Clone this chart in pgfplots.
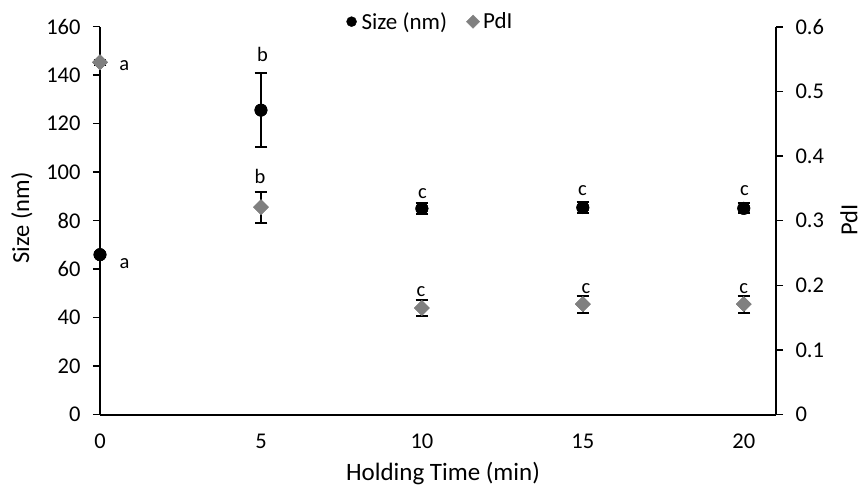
\documentclass[border=0pt]{standalone}
\usepackage{pgfplots}
\pgfplotsset{compat=1.18}
\usepackage{fontspec}
\setmainfont{Carlito}
\definecolor{pdigray}{RGB}{128,128,128}

% holding time (min), mean, standard deviation
\pgfplotstableread{
t   size   err
0   66.0   0.8
5   125.6  15.2
10  85.0   2.3
15  85.4   2.2
20  85.1   2.1
}\sizedata
\pgfplotstableread{
t   pdi    err
0   0.545  0.004
5   0.321  0.024
10  0.165  0.012
15  0.171  0.013
20  0.171  0.013
}\pdidata

\tikzset{letter/.style={font=\fontsize{20.5}{24}\selectfont, anchor=base, inner sep=0pt}}

\begin{document}
\begin{tikzpicture}
\pgfplotsset{
  common/.style={
    scale only axis, width=676pt, height=388pt,
    xmin=0, xmax=21,
    /pgf/number format/assume math mode=true,
    tick label style={font=\fontsize{22.5}{26}\selectfont},
    label style={font=\fontsize{25}{30}\selectfont},
    axis line style={line width=2pt, black},
    tick align=outside, major tick length=7pt,
    ytick style={line width=1.6pt, black},
    xtick style={draw=none},
    clip=false,
  },
  caps/.style={
    error bars/.cd, y dir=both, y explicit,
    error bar style={line width=2pt, black},
    error mark options={rotate=90, black, line width=2pt, mark size=6.3pt},
  },
  sizemark/.style={only marks, mark=*, mark size=6.2pt, black},
  pdimark/.style={only marks, mark=square*, mark size=5.3pt, pdigray,
    mark options={rotate=45}},
}
% left axis: particle size
\begin{axis}[common,
  axis x line*=bottom, axis y line*=left,
  ymin=0, ymax=160, ytick={0,20,...,160},
  xtick={0,5,10,15,20},
  xticklabel style={yshift=-9pt},
  yticklabel style={xshift=-9pt},
  xlabel={Holding Time (min)}, ylabel={Size (nm)},
  xlabel style={at={(axis description cs:0.5074,-0.1525)}, anchor=center},
  ylabel style={at={(axis description cs:-0.1154,0.507)}, anchor=center,
    font=\fontsize{24.5}{29}\selectfont},
  legend style={at={(axis description cs:0.4867,1.013)}, anchor=center,
    draw=none, fill=none, legend columns=2,
    font=\fontsize{23}{27}\selectfont,
    /tikz/every even column/.append style={column sep=16pt}},
  legend image code/.code={
    \node[draw=none, fill=none, inner sep=0pt, minimum width=16pt, minimum height=1pt] at (0pt,0pt) {};
    \draw[#1] plot coordinates {(0pt,0pt)};},
]
\addlegendimage{only marks, mark=*, mark size=5pt, black}
\addlegendentry{Size (nm)}
\addlegendimage{only marks, mark=square*, mark size=4.7pt, pdigray, mark options={rotate=45}}
\addlegendentry{PdI}
% error bars first, markers drawn over them
\addplot[sizemark, forget plot, caps]
  table[x=t, y=size, y error=err] {\sizedata};
\addplot[sizemark, forget plot]
  table[x=t, y=size] {\sizedata};
% significance letters
\node[letter] at (axis cs:0.761,60.4) {a};
\node[letter] at (axis cs:0.752,142.1) {a};
\node[letter] at (axis cs:5.047,145.6) {b};
\node[letter] at (axis cs:4.970,95.4) {b};
\node[letter] at (axis cs:10.019,89.2) {c};
\node[letter] at (axis cs:9.972,48.7) {c};
\node[letter] at (axis cs:14.99,90.2) {c};
\node[letter] at (axis cs:15.10,50.1) {c};
\node[letter] at (axis cs:20.02,90.2) {c};
\node[letter] at (axis cs:20.0,50.1) {c};
\end{axis}
% right axis: polydispersity index
\begin{axis}[common,
  axis y line*=right, axis x line=none,
  ymin=0, ymax=0.6, ytick={0,0.1,0.2,0.3,0.4,0.5,0.6},
  yticklabel style={/pgf/number format/fixed, /pgf/number format/precision=1,
    xshift=9pt},
  ylabel={PdI},
  ylabel style={at={(axis description cs:1.1080,0.502)}, anchor=center,
    inner sep=0pt, font=\fontsize{24.5}{29}\selectfont},
]
\addplot[pdimark, caps]
  table[x=t, y=pdi, y error=err] {\pdidata};
\addplot[pdimark]
  table[x=t, y=pdi] {\pdidata};
\end{axis}
\pgfresetboundingbox
\path[use as bounding box] (-100pt,-74.3pt) rectangle (761pt,414.7pt);
\end{tikzpicture}
\end{document}
